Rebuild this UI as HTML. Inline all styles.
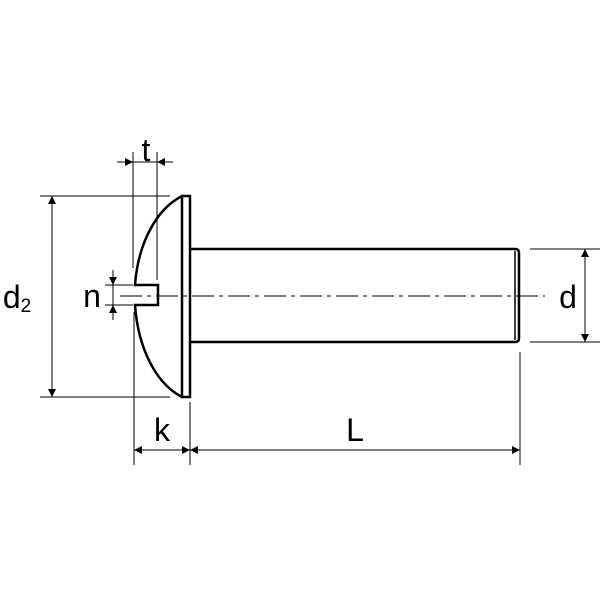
<!DOCTYPE html>
<html><head><style>body{margin:0;background:#fff}svg{display:block}</style></head><body>
<svg width="600" height="600" viewBox="0 0 600 600" xmlns="http://www.w3.org/2000/svg">
<defs>
<marker id="a" viewBox="0 0 10 10" refX="10" refY="5" markerWidth="12" markerHeight="8" orient="auto-start-reverse" markerUnits="userSpaceOnUse"><path d="M0,0L10,5L0,10z" fill="#000"/></marker>
</defs>
<g stroke="#000" fill="none">
<rect x="182" y="196" width="8" height="201" stroke-width="2.5"/>
<path d="M182,196 C155,210 138,245 135,285 L158,285 L158,305 L135,305 C138,347 155,383 182,397" stroke-width="2.5"/>
<path d="M190,249 L515,249 Q519,249 519,253 L519,338 Q519,342 515,342 L190,342" stroke-width="2.5"/>
<line x1="515" y1="251" x2="515" y2="340" stroke-width="1.5"/>
<line x1="120" y1="296" x2="545" y2="296" stroke-width="1" stroke-dasharray="22,5,4,5"/>
<g stroke-width="1">
<line x1="40" y1="196" x2="170" y2="196"/><line x1="40" y1="397" x2="170" y2="397"/>
<line x1="530" y1="249" x2="600" y2="249"/><line x1="530" y1="342" x2="600" y2="342"/>
<line x1="133" y1="152" x2="133" y2="268"/><line x1="157" y1="152" x2="157" y2="280"/>
<line x1="105" y1="285" x2="133" y2="285"/><line x1="105" y1="305" x2="133" y2="305"/>
<line x1="134" y1="312" x2="134" y2="465"/><line x1="190" y1="402" x2="190" y2="465"/>
<line x1="520" y1="352" x2="520" y2="465"/>
<line x1="52" y1="196" x2="52" y2="397" marker-start="url(#a)" marker-end="url(#a)"/>
<line x1="585" y1="249" x2="585" y2="342" marker-start="url(#a)" marker-end="url(#a)"/>
<line x1="134" y1="450" x2="190" y2="450" marker-start="url(#a)" marker-end="url(#a)"/>
<line x1="190" y1="450" x2="520" y2="450" marker-start="url(#a)" marker-end="url(#a)"/>
<line x1="117" y1="162" x2="133" y2="162" marker-end="url(#a)"/>
<line x1="173" y1="162" x2="157" y2="162" marker-end="url(#a)"/>
<line x1="133" y1="162" x2="157" y2="162"/>
<line x1="113" y1="270" x2="113" y2="285" marker-end="url(#a)"/>
<line x1="113" y1="320" x2="113" y2="305" marker-end="url(#a)"/>
<line x1="113" y1="285" x2="113" y2="305"/>
</g>
</g>
<g font-family="Liberation Sans, sans-serif" font-size="32" fill="#000" text-anchor="middle">
<text x="146" y="161">t</text>
<text x="92" y="307">n</text>
<text x="17" y="308">d<tspan font-size="19" dy="4">2</tspan></text>
<text x="568" y="308">d</text>
<text x="162" y="441">k</text>
<text x="355" y="441">L</text>
</g>
</svg>
</body></html>
